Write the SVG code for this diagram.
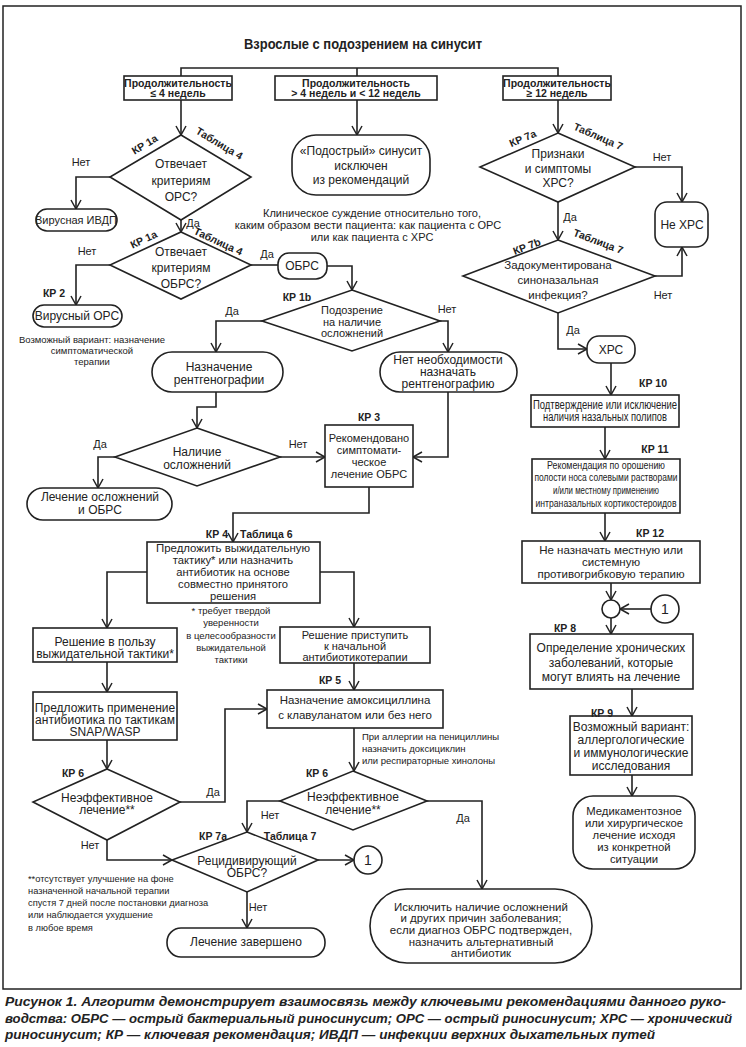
<svg xmlns="http://www.w3.org/2000/svg" width="746" height="1047" viewBox="0 0 746 1047">
<defs>
<marker id="ah" markerWidth="12" markerHeight="12" refX="10" refY="6" orient="auto" markerUnits="userSpaceOnUse"><path d="M1,1 L10,6 L1,11" fill="none" stroke="#222" stroke-width="1.5"/></marker>
<style>
.t{font-family:"Liberation Sans",Arial,sans-serif;font-size:12px;text-anchor:middle;fill:#222}
.m{font-size:11px}
.b{font-family:"Liberation Sans",Arial,sans-serif;font-size:10.5px;font-weight:bold;text-anchor:middle;fill:#222}
.s{font-family:"Liberation Sans",Arial,sans-serif;font-size:9.5px;fill:#222}
.box{fill:#fff;stroke:#222;stroke-width:1.6}
.ln{fill:none;stroke:#222;stroke-width:1.6}
.ar{fill:none;stroke:#222;stroke-width:1.6;marker-end:url(#ah)}
.cap{font-family:"Liberation Sans Narrow","Liberation Sans",Arial,sans-serif;font-size:13px;font-weight:bold;font-style:italic;fill:#222}
</style>
</defs>
<rect x="0" y="0" width="746" height="1047" fill="#fff"/>
<rect x="3" y="6" width="738" height="983" fill="none" stroke="#222" stroke-width="1.5"/>
<text class="t" x="363" y="49" style="font-size:14px;font-weight:bold" textLength="238" lengthAdjust="spacingAndGlyphs">Взрослые с подозрением на синусит</text>

<g id="connectors">
<path class="ln" d="M181,76 V68 H558 V76 M357,68 V76"/>
<path class="ar" d="M181,100 V135"/>
<path class="ar" d="M357,100 V135"/>
<path class="ar" d="M558,100 V133"/>
<path class="ar" d="M110,177 H76 V209"/>
<path class="ar" d="M181,220 V232"/>
<path class="ar" d="M110,265 H76 V305"/>
<path class="ln" d="M251,265 H278"/>
<path class="ar" d="M327,266 H352 V290"/>
<path class="ar" d="M262,321 H216 V352"/>
<path class="ar" d="M440,321 H448 V352"/>
<path class="ar" d="M216,392 V407 H197 V428"/>
<path class="ar" d="M448,392 V457 H413"/>
<path class="ar" d="M115,457 H98 V488"/>
<path class="ar" d="M280,457 H325"/>
<path class="ar" d="M369,487 V513 H233 V542"/>
<path class="ar" d="M147,572 H107 V628"/>
<path class="ar" d="M320,572 H354 V627"/>
<path class="ar" d="M107,662 V692"/>
<path class="ar" d="M107,740 V769"/>
<path class="ar" d="M354,663 V690"/>
<path class="ar" d="M354,728 V771"/>
<path class="ar" d="M180,802 H225 V709 H267"/>
<path class="ar" d="M107,840 V860 H172"/>
<path class="ar" d="M280,801 H247 V832"/>
<path class="ar" d="M427,801 H482 V889"/>
<path class="ar" d="M318,860 H354"/>
<path class="ar" d="M247,892 V928"/>
<path class="ar" d="M635,167 H682 V202"/>
<path class="ar" d="M558,202 V240"/>
<path class="ar" d="M655,276 H682 V247"/>
<path class="ar" d="M558,313 V349 H587"/>
<path class="ar" d="M611,363 V395"/>
<path class="ar" d="M605,427 V459"/>
<path class="ar" d="M605,513 V541"/>
<path class="ar" d="M611,583 V600"/>
<path class="ar" d="M651,609 H620"/>
<path class="ar" d="M611,618 V634"/>
<path class="ar" d="M632,689 V716"/>
<path class="ar" d="M632,775 V796"/>
</g>

<g id="n-dur4">
<rect class="box" x="124" y="76" width="108" height="24"/>
<text class="b" x="178" y="87">Продолжительность</text>
<text class="b" x="178" y="97">≤ 4 недель</text>
</g>
<g id="n-dur4-12">
<rect class="box" x="275" y="76" width="162" height="24"/>
<text class="b" x="356" y="87">Продолжительность</text>
<text class="b" x="356" y="97">&gt; 4 недель и &lt; 12 недель</text>
</g>
<g id="n-dur12">
<rect class="box" x="503" y="76" width="108" height="24"/>
<text class="b" x="557" y="87">Продолжительность</text>
<text class="b" x="557" y="97">≥ 12 недель</text>
</g>
<g id="n-subacute">
<rect class="box" x="292" y="135" width="138" height="60" rx="24"/>
<text class="t" x="361" y="155">«Подострый» синусит</text>
<text class="t" x="361" y="170">исключен</text>
<text class="t" x="361" y="184">из рекомендаций</text>
</g>
<g id="n-clinical">
<text class="t m" x="372" y="217">Клиническое суждение относительно того,</text>
<text class="t m" x="368" y="229">каким образом вести пациента: как пациента с ОРС</text>
<text class="t m" x="372" y="241">или как пациента с ХРС</text>
</g>
<g id="n-ors">
<polygon class="box" points="181,135 251,177 181,220 110,177"/>
<text class="t" x="181" y="168">Отвечает</text>
<text class="t" x="181" y="185">критериям</text>
<text class="t" x="181" y="201">ОРС?</text>
</g>
<g id="n-viral-ivdp">
<rect class="box" x="36" y="209" width="81" height="22" rx="11"/>
<text class="t" x="76" y="224" style="font-size:11px">Вирусная ИВДП</text>
</g>
<g id="n-obrs-q">
<polygon class="box" points="181,232 251,265 181,299 110,265"/>
<text class="t" x="181" y="256">Отвечает</text>
<text class="t" x="181" y="272">критериям</text>
<text class="t" x="181" y="288">ОБРС?</text>
</g>
<g id="n-viral-ors">
<rect class="box" x="33" y="305" width="89" height="22" rx="11"/>
<text class="t" x="77" y="320">Вирусный ОРС</text>
</g>
<g id="n-viral-note">
<text class="s" x="92" y="343" style="text-anchor:middle">Возможный вариант: назначение</text>
<text class="s" x="92" y="354" style="text-anchor:middle">симптоматической</text>
<text class="s" x="92" y="365" style="text-anchor:middle">терапии</text>
</g>
<g id="n-obrs">
<rect class="box" x="278" y="253" width="49" height="26" rx="11"/>
<text class="t" x="302" y="270">ОБРС</text>
</g>
<g id="n-kp1b">
<polygon class="box" points="352,290 440,321 352,351 262,321"/>
<text class="t m" x="352" y="314">Подозрение</text>
<text class="t m" x="352" y="326">на наличие</text>
<text class="t m" x="352" y="337">осложнений</text>
</g>
<g id="n-xray">
<rect class="box" x="152" y="352" width="131" height="40" rx="20"/>
<text class="t" x="219" y="371">Назначение</text>
<text class="t" x="219" y="384">рентгенографии</text>
</g>
<g id="n-noxray">
<rect class="box" x="380" y="352" width="137" height="40" rx="20"/>
<text class="t" x="448" y="364">Нет необходимости</text>
<text class="t" x="448" y="376">назначать</text>
<text class="t" x="448" y="388">рентгенографию</text>
</g>
<g id="n-compl">
<polygon class="box" points="197,428 280,457 197,486 115,457"/>
<text class="t" x="197" y="456">Наличие</text>
<text class="t" x="197" y="469">осложнений</text>
</g>
<g id="n-treat-compl">
<rect class="box" x="27" y="488" width="145" height="32" rx="16"/>
<text class="t" x="100" y="501">Лечение осложнений</text>
<text class="t" x="100" y="514">и ОБРС</text>
</g>
<g id="n-kp3">
<rect class="box" x="325" y="425" width="88" height="62"/>
<text class="t m" x="369" y="442">Рекомендовано</text>
<text class="t m" x="369" y="454">симптомати-</text>
<text class="t m" x="369" y="466">ческое</text>
<text class="t m" x="369" y="478">лечение ОБРС</text>
</g>
<g id="n-kp4">
<rect class="box" x="147" y="542" width="173" height="61"/>
<text class="t" x="233" y="552" style="font-size:11.2px" textLength="154" lengthAdjust="spacingAndGlyphs">Предложить выжидательную</text>
<text class="t" x="233" y="564" style="font-size:11.2px">тактику* или назначить</text>
<text class="t" x="233" y="576" style="font-size:11.2px">антибиотик на основе</text>
<text class="t" x="233" y="588" style="font-size:11.2px">совместно принятого</text>
<text class="t" x="233" y="600" style="font-size:11.2px">решения</text>
</g>
<g id="n-star-note">
<text class="s" x="231" y="614" style="text-anchor:middle">* требует твердой</text>
<text class="s" x="231" y="626" style="text-anchor:middle">уверенности</text>
<text class="s" x="231" y="639" style="text-anchor:middle">в целесообразности</text>
<text class="s" x="231" y="651" style="text-anchor:middle">выжидательной</text>
<text class="s" x="231" y="663" style="text-anchor:middle">тактики</text>
</g>
<g id="n-wait">
<rect class="box" x="33" y="628" width="144" height="34"/>
<text class="t" x="105" y="646">Решение в пользу</text>
<text class="t" x="105" y="658">выжидательной тактики*</text>
</g>
<g id="n-snap">
<rect class="box" x="33" y="692" width="144" height="48"/>
<text class="t" x="105" y="712">Предложить применение</text>
<text class="t" x="105" y="724">антибиотика по тактикам</text>
<text class="t" x="105" y="736">SNAP/WASP</text>
</g>
<g id="n-start-ab">
<rect class="box" x="280" y="627" width="150" height="36"/>
<text class="t" x="355" y="639" style="font-size:11px">Решение приступить</text>
<text class="t" x="355" y="650" style="font-size:11px">к начальной</text>
<text class="t" x="355" y="661" style="font-size:11px">антибиотикотерапии</text>
</g>
<g id="n-amox">
<rect class="box" x="267" y="690" width="176" height="38"/>
<text class="t" x="355" y="704" style="font-size:11.5px">Назначение амоксициллина</text>
<text class="t" x="355" y="719" style="font-size:11.5px">с клавуланатом или без него</text>
</g>
<g id="n-allergy">
<text class="s" x="362" y="740">При аллергии на пенициллины</text>
<text class="s" x="362" y="752">назначить доксициклин</text>
<text class="s" x="362" y="764">или респираторные хинолоны</text>
</g>
<g id="n-kp6-left">
<polygon class="box" points="107,769 180,802 107,840 33,802"/>
<text class="t" x="107" y="802">Неэффективное</text>
<text class="t" x="107" y="814">лечение**</text>
</g>
<g id="n-kp6-right">
<polygon class="box" points="353,771 427,801 353,830 280,801"/>
<text class="t" x="353" y="801">Неэффективное</text>
<text class="t" x="353" y="814">лечение**</text>
</g>
<g id="n-recur">
<polygon class="box" points="247,832 318,860 247,892 172,860"/>
<text class="t" x="247" y="865">Рецидивирующий</text>
<text class="t" x="247" y="877">ОБРС?</text>
</g>
<g id="n-circle1-left">
<circle class="box" cx="368" cy="860" r="14"/>
<text class="t" x="368" y="865" style="font-size:14px">1</text>
</g>
<g id="n-done">
<rect class="box" x="167" y="928" width="158" height="29" rx="14"/>
<text class="t" x="246" y="946">Лечение завершено</text>
</g>
<g id="n-dstar-note">
<text class="s" x="28" y="882" style="font-size:9.3px">**отсутствует улучшение на фоне</text>
<text class="s" x="28" y="894" style="font-size:9.3px">назначенной начальной терапии</text>
<text class="s" x="28" y="906" style="font-size:9.3px">спустя 7 дней после постановки диагноза</text>
<text class="s" x="28" y="918" style="font-size:9.3px">или наблюдается ухудшение</text>
<text class="s" x="28" y="931" style="font-size:9.3px">в любое время</text>
</g>
<g id="n-exclude">
<rect class="box" x="370" y="889" width="222" height="74" rx="37"/>
<text class="t" x="481" y="911" style="font-size:11.5px">Исключить наличие осложнений</text>
<text class="t" x="481" y="922" style="font-size:11.5px">и других причин заболевания;</text>
<text class="t" x="481" y="934" style="font-size:11.5px">если диагноз ОБРС подтвержден,</text>
<text class="t" x="481" y="946" style="font-size:11.5px">назначить альтернативный</text>
<text class="t" x="481" y="957" style="font-size:11.5px">антибиотик</text>
</g>
<g id="n-kp7a">
<polygon class="box" points="558,133 635,167 558,202 480,167"/>
<text class="t" x="558" y="158">Признаки</text>
<text class="t" x="558" y="173">и симптомы</text>
<text class="t" x="558" y="187">ХРС?</text>
</g>
<g id="n-notxrs">
<rect class="box" x="655" y="202" width="53" height="45" rx="12"/>
<text class="t" x="682" y="229">Не ХРС</text>
</g>
<g id="n-kp7b">
<polygon class="box" points="558,240 655,276 558,313 463,276"/>
<text class="t" x="558" y="269" style="font-size:11.5px">Задокументирована</text>
<text class="t" x="558" y="284" style="font-size:11.5px">синоназальная</text>
<text class="t" x="558" y="299" style="font-size:11.5px">инфекция?</text>
</g>
<g id="n-xrs">
<rect class="box" x="587" y="336" width="48" height="27" rx="12"/>
<text class="t" x="611" y="354">ХРС</text>
</g>
<g id="n-kp10">
<rect class="box" x="531" y="395" width="148" height="32"/>
<text class="t" x="605" y="409" textLength="144" lengthAdjust="spacingAndGlyphs">Подтверждение или исключение</text>
<text class="t" x="605" y="421" textLength="124" lengthAdjust="spacingAndGlyphs">наличия назальных полипов</text>
</g>
<g id="n-kp11">
<rect class="box" x="532" y="459" width="148" height="54"/>
<text class="t" x="606" y="469" style="font-size:10px" textLength="118" lengthAdjust="spacingAndGlyphs">Рекомендация по орошению</text>
<text class="t" x="606" y="481" style="font-size:10px" textLength="143" lengthAdjust="spacingAndGlyphs">полости носа солевыми растворами</text>
<text class="t" x="606" y="494" style="font-size:10px" textLength="106" lengthAdjust="spacingAndGlyphs">и/или местному применению</text>
<text class="t" x="606" y="507" style="font-size:10px" textLength="141" lengthAdjust="spacingAndGlyphs">интраназальных кортикостероидов</text>
</g>
<g id="n-kp12">
<rect class="box" x="522" y="541" width="178" height="42"/>
<text class="t" x="611" y="554" style="font-size:11.5px">Не назначать местную или</text>
<text class="t" x="611" y="566" style="font-size:11.5px">системную</text>
<text class="t" x="611" y="578" style="font-size:11.5px">противогрибковую терапию</text>
</g>
<g id="n-join">
<circle class="box" cx="611" cy="609" r="9"/>
</g>
<g id="n-circle1-right">
<circle class="box" cx="665" cy="609" r="14"/>
<text class="t" x="665" y="614" style="font-size:14px">1</text>
</g>
<g id="n-kp8">
<rect class="box" x="530" y="634" width="163" height="55"/>
<text class="t" x="611" y="652">Определение хронических</text>
<text class="t" x="611" y="667">заболеваний, которые</text>
<text class="t" x="611" y="681">могут влиять на лечение</text>
</g>
<g id="n-kp9">
<rect class="box" x="570" y="716" width="122" height="59"/>
<text class="t" x="631" y="731">Возможный вариант:</text>
<text class="t" x="631" y="744">аллергологические</text>
<text class="t" x="631" y="757">и иммунологические</text>
<text class="t" x="631" y="770">исследования</text>
</g>
<g id="n-final">
<rect class="box" x="573" y="796" width="122" height="73" rx="20"/>
<text class="t" x="634" y="815" style="font-size:11.3px">Медикаментозное</text>
<text class="t" x="634" y="827" style="font-size:11.3px">или хирургическое</text>
<text class="t" x="634" y="839" style="font-size:11.3px">лечение исходя</text>
<text class="t" x="634" y="851" style="font-size:11.3px">из конкретной</text>
<text class="t" x="634" y="863" style="font-size:11.3px">ситуации</text>
</g>

<g id="labels">
<text class="t m" x="81" y="166">Нет</text>
<text class="t m" x="193" y="227">Да</text>
<text class="t m" x="87" y="255">Нет</text>
<text class="t m" x="267" y="258">Да</text>
<text class="b" x="54" y="297">КР 2</text>
<text class="b" x="297" y="301">КР 1b</text>
<text class="t m" x="232" y="315">Да</text>
<text class="t m" x="447" y="313">Нет</text>
<text class="t m" x="100" y="448">Да</text>
<text class="t m" x="298" y="448">Нет</text>
<text class="b" x="369" y="421">КР 3</text>
<text class="b" x="228" y="538" style="text-anchor:end">КР 4</text>
<text class="b" x="240" y="538" style="text-anchor:start">Таблица 6</text>
<text class="b" x="330" y="684">КР 5</text>
<text class="b" x="73" y="777">КР 6</text>
<text class="b" x="317" y="777">КР 6</text>
<text class="t m" x="213" y="796">Да</text>
<text class="t m" x="90" y="849">Нет</text>
<text class="t m" x="270" y="819">Нет</text>
<text class="t m" x="463" y="822">Да</text>
<text class="b" x="213" y="840">КР 7а</text>
<text class="b" x="290" y="840">Таблица 7</text>
<text class="t m" x="258" y="911">Нет</text>
<text class="t m" x="662" y="161">Нет</text>
<text class="t m" x="570" y="221">Да</text>
<text class="t m" x="663" y="299">Нет</text>
<text class="t m" x="573" y="334">Да</text>
<text class="b" x="653" y="387">КР 10</text>
<text class="b" x="655" y="453">КР 11</text>
<text class="b" x="650" y="537">КР 12</text>
<text class="b" x="565" y="632">КР 8</text>
<text class="b" x="602" y="717">КР 9</text>
<text class="b" transform="rotate(-31 145 145)" x="145" y="148">КР 1а</text>
<text class="b" transform="rotate(31 219 144)" x="219" y="147">Таблица 4</text>
<text class="b" transform="rotate(-25 144 240)" x="144" y="243">КР 1а</text>
<text class="b" transform="rotate(25 218 242)" x="218" y="245">Таблица 4</text>
<text class="b" transform="rotate(-23.5 523 139)" x="523" y="142">КР 7а</text>
<text class="b" transform="rotate(23.5 598 137)" x="598" y="140">Таблица 7</text>
<text class="b" transform="rotate(-21 527 247)" x="527" y="250">КР 7b</text>
<text class="b" transform="rotate(21 598 242)" x="598" y="245">Таблица 7</text>
</g>

<g id="caption">
<text class="cap" x="5" y="1006" textLength="721" lengthAdjust="spacingAndGlyphs">Рисунок 1. Алгоритм демонстрирует взаимосвязь между ключевыми рекомендациями данного руко-</text>
<text class="cap" x="5" y="1023" textLength="727" lengthAdjust="spacingAndGlyphs">водства: ОБРС — острый бактериальный риносинусит; ОРС — острый риносинусит; ХРС — хронический</text>
<text class="cap" x="5" y="1039" textLength="650" lengthAdjust="spacingAndGlyphs">риносинусит; КР — ключевая рекомендация; ИВДП — инфекции верхних дыхательных путей</text>
</g>
</svg>
